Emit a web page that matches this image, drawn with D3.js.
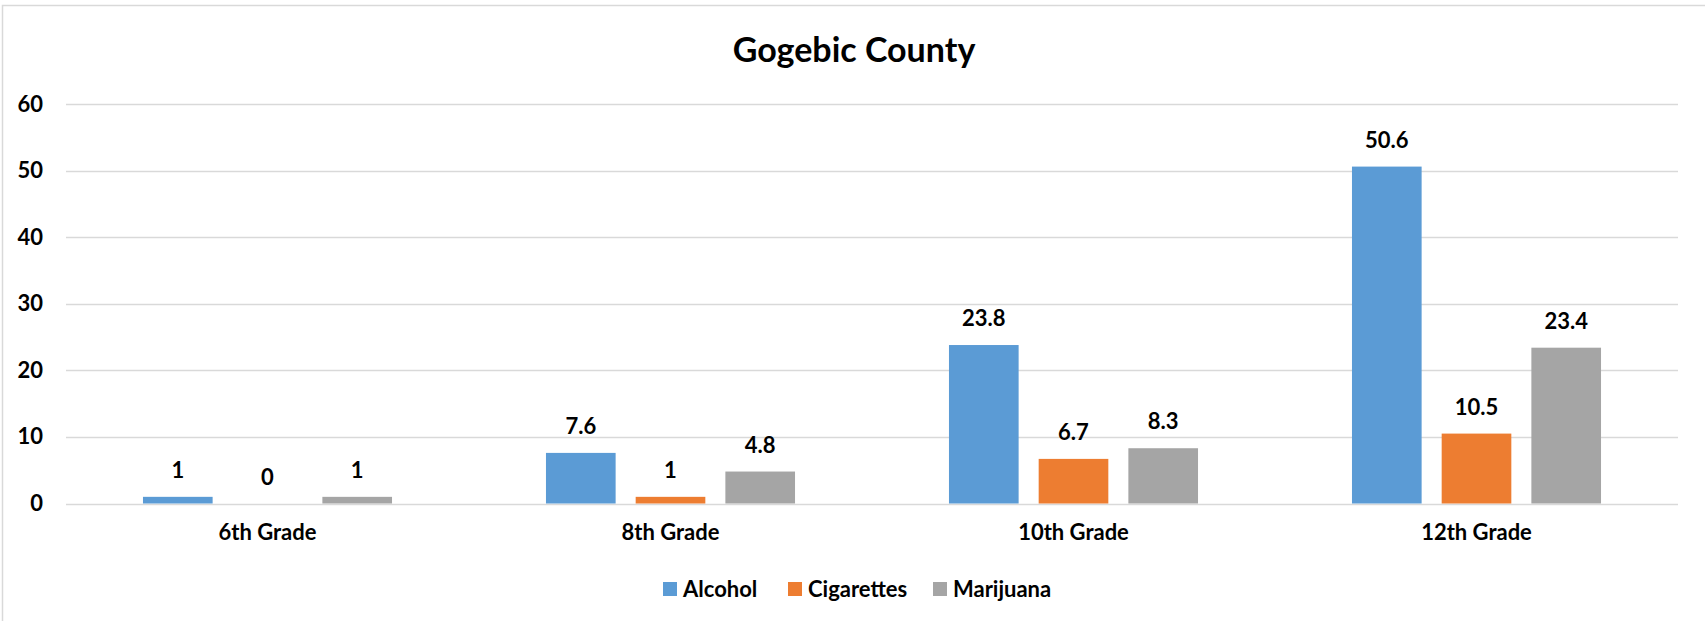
<!DOCTYPE html>
<html>
<head>
<meta charset="utf-8">
<script src="https://cdn.jsdelivr.net/npm/d3@7"></script>
<style>
  html, body { margin: 0; padding: 0; background: #fff; }
  svg { display: block; font-family: Lato, "Open Sans", sans-serif; }
</style>
</head>
<body>
<svg id="chart" width="1705" height="621"></svg>
<script>
const title = "Gogebic County";
const categories = ["6th Grade", "8th Grade", "10th Grade", "12th Grade"];
const seriesNames = ["Alcohol", "Cigarettes", "Marijuana"];
const alcohol = [1, 7.6, 23.8, 50.6];
const cigarettes = [0, 1, 6.7, 10.5];
const marijuana = [1, 4.8, 8.3, 23.4];
const yTicks = [0, 10, 20, 30, 40, 50, 60];
const colors = ["#5B9BD5", "#ED7D31", "#A5A5A5"];

const seriesValues = [alcohol, cigarettes, marijuana];
const data = categories.map((c, i) => ({
  cat: c,
  vals: seriesNames.map((s, j) => ({ key: s, value: seriesValues[j][i] }))
}));

const svg = d3.select("#chart");
const W = 1705, H = 621;
const margin = { left: 66, right: 27, top: 104, bottom: 117.5 };
const FS = 22;

// chart frame
svg.append("rect")
  .attr("x", 2.5).attr("y", 5.5)
  .attr("width", W + 20).attr("height", H + 20)
  .attr("fill", "#fff").attr("stroke", "#D9D9D9").attr("stroke-width", 1.5);

const x0 = d3.scaleBand()
  .domain(categories)
  .range([margin.left, W - margin.right])
  .paddingInner(0.382).paddingOuter(0.191);
const x1 = d3.scaleBand()
  .domain(seriesNames)
  .range([0, x0.bandwidth()])
  .paddingInner(0.2235);
const y = d3.scaleLinear()
  .domain([0, 60])
  .range([H - margin.bottom, margin.top]);

// gridlines
svg.append("g")
  .selectAll("line")
  .data(yTicks)
  .join("line")
  .attr("x1", margin.left).attr("x2", W - margin.right)
  .attr("y1", d => Math.round(y(d)) + 0.5).attr("y2", d => Math.round(y(d)) + 0.5)
  .attr("stroke", "#D9D9D9").attr("stroke-width", 1.5);

// y axis
const yAxis = svg.append("g")
  .attr("transform", `translate(${margin.left},0)`)
  .call(d3.axisLeft(y).tickValues(yTicks).tickSize(0).tickPadding(23));
yAxis.select(".domain").remove();
yAxis.selectAll("text")
  .attr("font-family", "Lato, 'Open Sans', sans-serif")
  .attr("font-size", FS).attr("font-weight", "bold").attr("fill", "#000");

// x axis
const xAxis = svg.append("g")
  .attr("transform", `translate(0,${H - margin.bottom})`)
  .call(d3.axisBottom(x0).tickSize(0).tickPadding(21));
xAxis.select(".domain").remove();
xAxis.selectAll("text")
  .attr("font-family", "Lato, 'Open Sans', sans-serif")
  .attr("font-size", FS).attr("font-weight", "bold").attr("fill", "#000");

// bars
const groups = svg.append("g")
  .selectAll("g")
  .data(data)
  .join("g")
  .attr("transform", d => `translate(${x0(d.cat)},0)`);

groups.selectAll("rect")
  .data(d => d.vals)
  .join("rect")
  .attr("x", d => x1(d.key))
  .attr("width", x1.bandwidth())
  .attr("y", d => y(d.value))
  .attr("height", d => y(0) - y(d.value))
  .attr("fill", (d, i) => colors[i]);

groups.selectAll("text")
  .data(d => d.vals)
  .join("text")
  .attr("x", d => x1(d.key) + x1.bandwidth() / 2)
  .attr("y", d => y(d.value) - 19)
  .attr("text-anchor", "middle")
  .attr("font-size", FS).attr("font-weight", "bold").attr("fill", "#000")
  .text(d => d.value);

// title
svg.append("text")
  .attr("x", 854).attr("y", 62)
  .attr("text-anchor", "middle")
  .attr("font-size", 34).attr("font-weight", "bold").attr("fill", "#000")
  .text(title);

// legend
const legendX = [663, 788, 933];
const legend = svg.append("g")
  .selectAll("g")
  .data(seriesNames)
  .join("g")
  .attr("transform", (d, i) => `translate(${legendX[i]},582)`);
legend.append("rect")
  .attr("width", 14).attr("height", 14)
  .attr("fill", (d, i) => colors[i]);
legend.append("text")
  .attr("x", 20).attr("y", 14.5)
  .attr("font-size", FS).attr("font-weight", "bold").attr("fill", "#000")
  .text(d => d);
</script>
</body>
</html>
